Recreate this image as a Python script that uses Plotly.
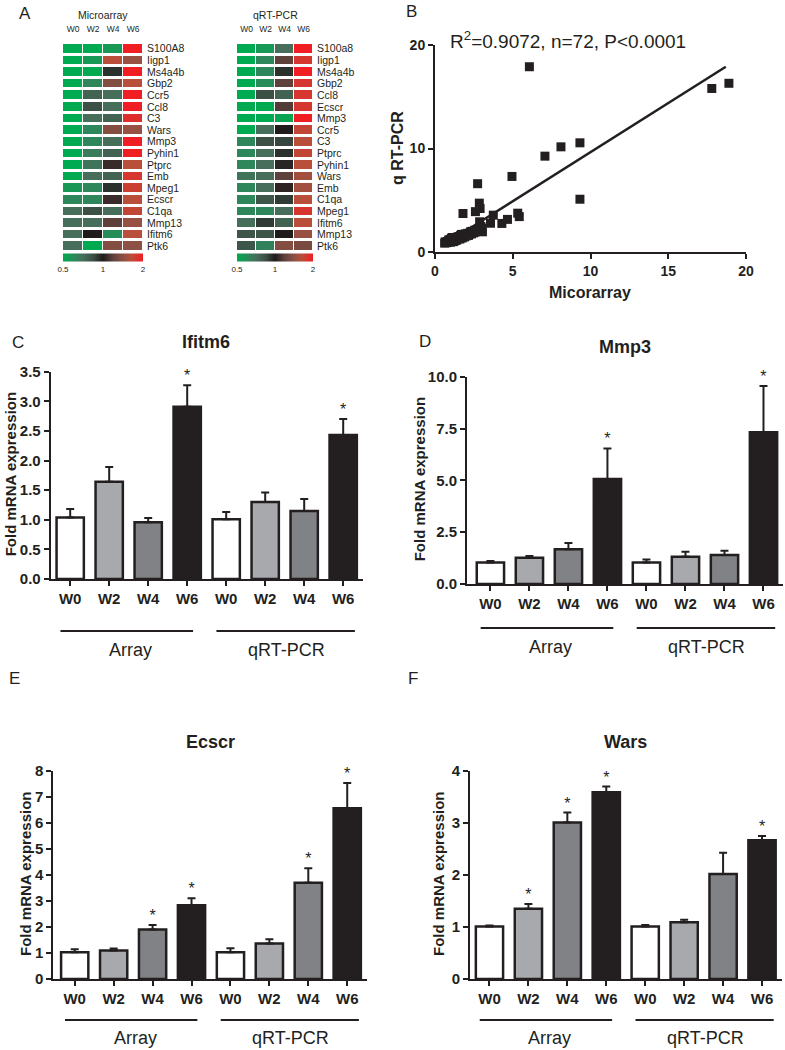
import plotly.graph_objects as go

W, H = 785, 1050
def px(x): return x / W
def py(y): return 1 - y / H

FONT = "Arial, Liberation Sans, sans-serif"
INK = "#231f20"

# ---------------- data ----------------
weeks = ["W0", "W2", "W4", "W6"]

micro_genes = ["S100A8", "Iigp1", "Ms4a4b", "Gbp2", "Ccr5", "Ccl8", "C3", "Wars", "Mmp3",
               "Pyhin1", "Ptprc", "Emb", "Mpeg1", "Ecscr", "C1qa", "Mmp13", "Ifitm6", "Ptk6"]
micro_vals = [
    [-1.0, -1.0, -0.85, 1.0],
    [-1.0, -0.85, 0.7, 0.55],
    [-1.0, -1.0, -0.1, 1.0],
    [-1.0, -0.7, 0.45, 0.7],
    [-1.0, -0.4, -0.5, 1.0],
    [-1.0, -0.25, -0.5, 1.0],
    [-1.0, -0.5, -0.4, 0.9],
    [-1.0, -0.7, 0.45, 0.55],
    [-1.0, -0.7, -0.5, 1.0],
    [-1.0, -0.6, -0.4, 1.0],
    [-1.0, -0.55, 0.1, 0.7],
    [-1.0, -0.5, -0.4, 0.85],
    [-0.85, -0.7, -0.1, 0.8],
    [-0.7, -0.7, 0.1, 0.7],
    [-0.5, -0.25, -0.5, 0.75],
    [-0.5, -0.5, 0.25, 0.55],
    [-0.5, 0.0, -0.75, 0.7],
    [-0.5, -1.0, 0.45, 0.5],
]

qpcr_genes = ["S100a8", "Iigp1", "Ms4a4b", "Gbp2", "Ccl8", "Ecscr", "Mmp3", "Ccr5", "C3",
              "Ptprc", "Pyhin1", "Wars", "Emb", "C1qa", "Mpeg1", "Ifitm6", "Mmp13", "Ptk6"]
qpcr_vals = [
    [-1.0, -0.85, -0.5, 1.0],
    [-1.0, -0.7, 0.25, 0.85],
    [-1.0, -0.7, -0.1, 1.0],
    [-1.0, -0.75, 0.25, 0.85],
    [-1.0, -0.25, -0.4, 0.85],
    [-1.0, -1.0, 0.2, 0.85],
    [-1.0, -1.0, -0.95, 1.0],
    [-1.0, -0.5, 0.0, 0.75],
    [-0.7, -0.25, -0.2, 0.7],
    [-0.7, -0.5, -0.1, 0.75],
    [-0.7, -0.5, -0.05, 0.7],
    [-0.55, -0.5, 0.25, 0.6],
    [-0.7, -0.5, 0.05, 0.6],
    [-0.7, -0.3, -0.15, 0.7],
    [-0.7, -0.7, -0.5, 0.85],
    [-0.5, -0.15, -0.4, 0.7],
    [-0.3, -0.3, 0.0, 0.55],
    [-0.3, -0.65, 0.45, 0.4],
]
scale_vals = [-1, 0, 1]
scale_text = ["0.5", "1", "2"]

scatter_x = [6.07, 17.8, 18.9, 9.32, 8.1, 7.07, 4.95, 2.74, 9.32, 2.85, 2.9, 2.6, 1.8, 3.75,
             5.32, 5.42, 4.66, 4.3, 3.57, 2.87, 2.95, 2.7, 3.05, 2.3, 2.05, 1.72, 1.4, 1.1,
             0.88, 0.66, 0.62, 0.75, 0.8, 0.9, 0.95, 1.0, 1.05, 1.15, 1.2, 1.25, 1.3, 1.35,
             1.45, 1.5, 1.55, 1.6, 1.65, 1.75, 1.8, 1.85, 1.9, 1.95, 2.0, 2.1, 2.2, 2.25,
             2.35, 2.4, 2.5, 2.55, 2.6, 1.0, 1.2, 0.85, 1.4, 1.6, 1.7, 2.15, 2.45, 1.1, 1.3, 3.0]
scatter_y = [17.9, 15.8, 16.3, 10.55, 10.16, 9.26, 7.3, 6.6, 5.1, 4.72, 4.2, 3.9, 3.72, 3.56,
             3.75, 3.42, 3.15, 2.76, 2.78, 2.92, 2.46, 2.1, 1.95, 1.97, 1.65, 1.5, 1.33, 1.24,
             1.15, 0.98, 0.86, 0.9, 1.0, 1.05, 1.2, 1.1, 1.3, 1.15, 1.35, 1.2, 1.4, 1.25,
             1.45, 1.3, 1.5, 1.4, 1.6, 1.35, 1.55, 1.7, 1.45, 1.75, 1.55, 1.8, 1.7, 1.85,
             1.75, 2.0, 1.85, 2.1, 1.95, 0.95, 1.0, 0.95, 1.15, 1.25, 1.7, 1.6, 1.95, 1.4, 1.1, 2.3]
fit_x = [0.7, 18.7]
fit_y = [0.82, 17.9]
stat_text = "R<sup>2</sup>=0.9072, n=72, P<0.0001"

bar_labels = ["W0", "W2", "W4", "W6", "W0", "W2", "W4", "W6"]
group_names = ["Array", "qRT-PCR"]
bar_colors = ["#ffffff", "#a7a9ac", "#808285", "#231f20"] * 2

ifitm6_mean = [1.04, 1.64, 0.96, 2.91, 1.01, 1.30, 1.15, 2.43]
ifitm6_sem = [0.14, 0.25, 0.07, 0.36, 0.12, 0.16, 0.20, 0.27]
ifitm6_sig = [0, 0, 0, 1, 0, 0, 0, 1]

mmp3_mean = [1.04, 1.27, 1.68, 5.07, 1.04, 1.31, 1.40, 7.32]
mmp3_sem = [0.07, 0.08, 0.30, 1.47, 0.14, 0.24, 0.20, 2.23]
mmp3_sig = [0, 0, 0, 1, 0, 0, 0, 1]

ecscr_mean = [1.03, 1.10, 1.90, 2.84, 1.03, 1.37, 3.70, 6.57]
ecscr_sem = [0.11, 0.07, 0.18, 0.27, 0.15, 0.16, 0.56, 0.97]
ecscr_sig = [0, 0, 1, 1, 0, 0, 1, 1]

wars_mean = [1.01, 1.35, 3.01, 3.59, 1.01, 1.09, 2.02, 2.67]
wars_sem = [0.02, 0.09, 0.19, 0.11, 0.03, 0.05, 0.41, 0.08]
wars_sig = [0, 1, 1, 1, 0, 0, 0, 1]

# ---------------- figure ----------------
fig = go.Figure()
annotations = []
shapes = []

def note(text, x, y, size, xref="paper", angle=0):
    annotations.append(dict(text=text, x=x, y=y, xref=xref, yref="paper", showarrow=False,
                            xanchor="center", yanchor="middle", textangle=angle,
                            font=dict(size=size, family=FONT, color=INK)))

colorscale = [
    [0.0, "rgb(0,170,80)"],
    [0.15, "rgb(45,135,90)"],
    [0.25, "rgb(70,110,90)"],
    [0.375, "rgb(60,80,70)"],
    [0.5, "rgb(32,28,28)"],
    [0.625, "rgb(95,65,60)"],
    [0.75, "rgb(140,80,68)"],
    [0.85, "rgb(185,78,58)"],
    [1.0, "rgb(240,30,35)"],
]

def add_heatmap(vals, genes, xa, ya, x0, x1, title):
    fig.add_trace(go.Heatmap(
        z=vals, x=weeks, y=genes, xaxis=xa, yaxis=ya, colorscale=colorscale,
        zmin=-1, zmax=1, xgap=1, ygap=3, hoverongaps=False,
        colorbar=dict(orientation="h", x=px((x0 + x1) / 2), xanchor="center",
                      y=py(262), yanchor="middle", len=x1 - x0, lenmode="pixels",
                      thickness=8, thicknessmode="pixels", tickvals=scale_vals,
                      ticktext=scale_text, ticks="", outlinewidth=0,
                      tickfont=dict(size=8, family=FONT, color=INK), ypad=0, xpad=0)))
    note(title, px((x0 + x1) / 2), py(15), 10.5)

hm_x = dict(side="top", showline=False, showgrid=False, zeroline=False, ticks="",
            automargin=False, tickmode="array", tickvals=weeks,
            tickfont=dict(size=8.5, family=FONT, color=INK), ticklabelstandoff=8)
hm_y = dict(side="right", showline=False, showgrid=False, zeroline=False, ticks="",
            automargin=False, autorange="reversed", tickmode="array",
            tickfont=dict(size=10.5, family=FONT, color=INK), ticklabelstandoff=3)

layout_axes = {}
add_heatmap(micro_vals, micro_genes, "x", "y", 63, 143, "Microarray")
add_heatmap(qpcr_vals, qpcr_genes, "x2", "y2", 237, 313, "qRT-PCR")
layout_axes["xaxis"] = dict(hm_x, domain=[px(63), px(143)], anchor="y")
layout_axes["yaxis"] = dict(hm_y, domain=[py(252), py(43)], anchor="x", tickvals=micro_genes)
layout_axes["xaxis2"] = dict(hm_x, domain=[px(237), px(313)], anchor="y2")
layout_axes["yaxis2"] = dict(hm_y, domain=[py(252), py(43)], anchor="x2", tickvals=qpcr_genes)

# ---------------- scatter B ----------------
fig.add_trace(go.Scatter(x=scatter_x, y=scatter_y, mode="markers", xaxis="x3", yaxis="y3",
                         marker=dict(symbol="square", size=9, color=INK), cliponaxis=False))
fig.add_trace(go.Scatter(x=fit_x, y=fit_y, mode="lines", xaxis="x3", yaxis="y3",
                         line=dict(color=INK, width=2.5), cliponaxis=False))

ax_common = dict(showline=True, linecolor=INK, linewidth=2, showgrid=False, zeroline=False,
                 ticks="outside", ticklen=5, tickwidth=2, tickcolor=INK, automargin=False,
                 tickfont=dict(size=14, family=FONT, color=INK, weight="bold"))
layout_axes["xaxis3"] = dict(ax_common, domain=[px(435), px(746)], range=[0, 20],
                             tickvals=[0, 5, 10, 15, 20], anchor="y3")
layout_axes["yaxis3"] = dict(ax_common, domain=[py(252), py(45)], range=[0, 20],
                             tickvals=[0, 10, 20], anchor="x3")
note(stat_text, px(568), py(40), 19)
note("<b>Micorarray</b>", px(590), py(293), 16)
note("<b>q RT-PCR</b>", px(397), py(148), 16, angle=-90)

# ---------------- bar panels ----------------
def bar_panel(idx, mean, sem, sig, title, xdom, ydom, xrange, yrange, yticks, yfmt,
              title_pos, ytitle_x, line_y, label_y):
    xa, ya = f"x{idx}", f"y{idx}"
    xs = list(range(len(mean)))
    fig.add_trace(go.Bar(
        x=xs, y=mean, xaxis=xa, yaxis=ya, width=0.7,
        marker=dict(color=bar_colors, line=dict(color=INK, width=2.5)),
        error_y=dict(type="data", array=sem, arrayminus=[0] * len(sem), symmetric=False,
                     color=INK, thickness=2, width=4)))
    sx = [x for x, s in zip(xs, sig) if s]
    sy = [m + e for m, e, s in zip(mean, sem, sig) if s]
    fig.add_trace(go.Scatter(x=sx, y=sy, mode="text", text=["*"] * len(sx), xaxis=xa, yaxis=ya,
                             textposition="top center", cliponaxis=False,
                             textfont=dict(size=16, family=FONT, color=INK)))
    layout_axes[f"xaxis{idx}"] = dict(ax_common, domain=[px(xdom[0]), px(xdom[1])], range=xrange,
                                      tickvals=xs, ticktext=bar_labels, anchor=ya,
                                      tickfont=dict(size=15, family=FONT, color=INK, weight="bold"))
    layout_axes[f"yaxis{idx}"] = dict(ax_common, domain=[py(ydom[1]), py(ydom[0])], range=yrange,
                                      tickvals=yticks, tickformat=yfmt, anchor=xa,
                                      tickfont=dict(size=15, family=FONT, color=INK, weight="bold"))
    note(f"<b>{title}</b>", px(title_pos[0]), py(title_pos[1]), 18)
    note("<b>Fold mRNA expression</b>", px(ytitle_x), py((ydom[0] + ydom[1]) / 2 - 1), 15,
         angle=-90)
    for (g0, g1, gc), name in zip([(-0.25, 3.15, 1.55), (3.75, 7.3, 5.55)], group_names):
        shapes.append(dict(type="line", xref=xa, yref="paper", x0=g0, x1=g1,
                           y0=py(line_y), y1=py(line_y), line=dict(color=INK, width=2)))
        note(name, gc, py(label_y), 18, xref=xa)

bar_panel(4, ifitm6_mean, ifitm6_sem, ifitm6_sig, "Ifitm6", (50.7, 362.7), (371.7, 579),
          [-0.5, 7.5], [0, 3.5], [0, 0.5, 1, 1.5, 2, 2.5, 3, 3.5], ".1f",
          (205.7, 341.7), 10, 631, 650)
bar_panel(5, mmp3_mean, mmp3_sem, mmp3_sig, "Mmp3", (467, 783), (376.7, 584),
          [-0.6, 7.5], [0, 10], [0, 2.5, 5, 7.5, 10], ".1f",
          (625, 346.7), 419, 628, 647)
bar_panel(6, ecscr_mean, ecscr_sem, ecscr_sig, "Ecscr", (53.3, 366.7), (771, 979),
          [-0.55, 7.5], [0, 8], [0, 1, 2, 3, 4, 5, 6, 7, 8], "d",
          (210.7, 741.7), 25, 1020, 1038)
bar_panel(7, wars_mean, wars_sem, wars_sig, "Wars", (470, 781.5), (771, 979),
          [-0.5, 7.5], [0, 4], [0, 1, 2, 3, 4], "d",
          (625, 741.7), 438, 1020, 1038)

for letter, (lx, ly) in {"A": (25, 13), "B": (411, 11), "C": (18, 342), "D": (425, 341),
                         "E": (14, 678), "F": (413, 678)}.items():
    note(letter, px(lx), py(ly), 17)

fig.update_layout(
    width=W, height=H, margin=dict(l=0, r=0, t=0, b=0, autoexpand=False),
    paper_bgcolor="white", plot_bgcolor="white", showlegend=False,
    font=dict(family=FONT, color=INK),
    annotations=annotations, shapes=shapes, bargap=0.3,
    **layout_axes,
)

# remove the browser's default 8px body margin so the 785x1050 figure fills the window exactly
fig.write_html("out.html", config={"displayModeBar": False},
               post_script="document.body.style.margin='0px';")
